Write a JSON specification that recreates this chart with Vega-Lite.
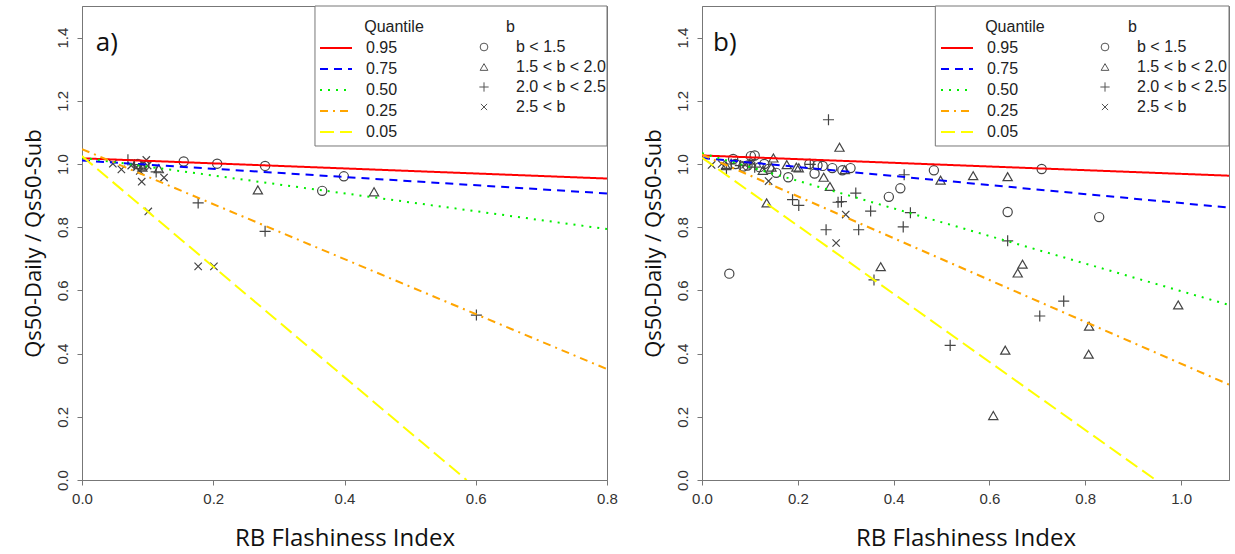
{
  "$schema": "https://vega.github.io/schema/vega-lite/v6.json",
  "padding": {"left": 21, "top": 5, "right": 0, "bottom": 0},
  "bounds": "flush",
  "spacing": 95,
  "background": "white",
  "config": {
    "view": {"stroke": "#777", "strokeWidth": 1},
    "axis": {"grid": false, "domainColor": "#777", "tickColor": "#777", "tickSize": 5, "labelFont": "Liberation Sans", "labelFontSize": 15, "labelColor": "#333", "titleFont": "Open Sans", "titleFontWeight": "normal", "titleColor": "#111", "labelOverlap": false, "labelFlush": false},
    "legend": {"labelFont": "Liberation Sans", "labelFontSize": 16, "labelColor": "#222", "padding": 0, "rowPadding": 4}
  },
  "datasets": {
    "lines_a": [
      {"q": "0.95", "x": 0, "y": 1.018}, {"q": "0.95", "x": 0.8, "y": 0.954},
      {"q": "0.75", "x": 0, "y": 1.011}, {"q": "0.75", "x": 0.8, "y": 0.907},
      {"q": "0.50", "x": 0, "y": 1.02}, {"q": "0.50", "x": 0.8, "y": 0.794},
      {"q": "0.25", "x": 0, "y": 1.047}, {"q": "0.25", "x": 0.8, "y": 0.351},
      {"q": "0.05", "x": 0, "y": 1.025}, {"q": "0.05", "x": 0.586, "y": 0}
    ],
    "lines_b": [
      {"q": "0.95", "x": 0, "y": 1.027}, {"q": "0.95", "x": 1.1, "y": 0.963},
      {"q": "0.75", "x": 0, "y": 1.019}, {"q": "0.75", "x": 1.1, "y": 0.862},
      {"q": "0.50", "x": 0, "y": 1.034}, {"q": "0.50", "x": 1.1, "y": 0.554},
      {"q": "0.25", "x": 0, "y": 1.03}, {"q": "0.25", "x": 1.1, "y": 0.302},
      {"q": "0.05", "x": 0, "y": 1.02}, {"q": "0.05", "x": 0.947, "y": 0}
    ],
    "pts_a": [
      {"b": "b < 1.5", "x": 0.155, "y": 1.008}, {"b": "b < 1.5", "x": 0.206, "y": 1.001}, {"b": "b < 1.5", "x": 0.279, "y": 0.994},
      {"b": "b < 1.5", "x": 0.399, "y": 0.961}, {"b": "b < 1.5", "x": 0.366, "y": 0.915}, {"b": "b < 1.5", "x": 0.085, "y": 1.0},
      {"b": "b < 1.5", "x": 0.095, "y": 0.995},
      {"b": "1.5 < b < 2.0", "x": 0.268, "y": 0.918}, {"b": "1.5 < b < 2.0", "x": 0.445, "y": 0.912},
      {"b": "1.5 < b < 2.0", "x": 0.117, "y": 0.985}, {"b": "1.5 < b < 2.0", "x": 0.092, "y": 0.99},
      {"b": "2.0 < b < 2.5", "x": 0.177, "y": 0.877}, {"b": "2.0 < b < 2.5", "x": 0.279, "y": 0.787}, {"b": "2.0 < b < 2.5", "x": 0.601, "y": 0.522},
      {"b": "2.0 < b < 2.5", "x": 0.070, "y": 1.013}, {"b": "2.0 < b < 2.5", "x": 0.113, "y": 0.975}, {"b": "2.0 < b < 2.5", "x": 0.09, "y": 0.985},
      {"b": "2.0 < b < 2.5", "x": 0.08, "y": 0.998},
      {"b": "2.5 < b", "x": 0.101, "y": 0.850}, {"b": "2.5 < b", "x": 0.177, "y": 0.676}, {"b": "2.5 < b", "x": 0.201, "y": 0.676},
      {"b": "2.5 < b", "x": 0.047, "y": 1.001}, {"b": "2.5 < b", "x": 0.060, "y": 0.983}, {"b": "2.5 < b", "x": 0.091, "y": 0.944},
      {"b": "2.5 < b", "x": 0.125, "y": 0.957}, {"b": "2.5 < b", "x": 0.098, "y": 1.013}, {"b": "2.5 < b", "x": 0.075, "y": 0.995},
      {"b": "2.5 < b", "x": 0.088, "y": 0.978}, {"b": "2.5 < b", "x": 0.083, "y": 0.99}, {"b": "2.5 < b", "x": 0.093, "y": 1.0},
      {"b": "2.5 < b", "x": 0.1, "y": 0.995}
    ],
    "pts_b": [
      {"b": "b < 1.5", "x": 0.057, "y": 0.653}, {"b": "b < 1.5", "x": 0.484, "y": 0.980}, {"b": "b < 1.5", "x": 0.390, "y": 0.896},
      {"b": "b < 1.5", "x": 0.414, "y": 0.923}, {"b": "b < 1.5", "x": 0.638, "y": 0.848}, {"b": "b < 1.5", "x": 0.709, "y": 0.984},
      {"b": "b < 1.5", "x": 0.829, "y": 0.832}, {"b": "b < 1.5", "x": 0.310, "y": 0.987}, {"b": "b < 1.5", "x": 0.272, "y": 0.987},
      {"b": "b < 1.5", "x": 0.241, "y": 0.996}, {"b": "b < 1.5", "x": 0.235, "y": 0.970}, {"b": "b < 1.5", "x": 0.180, "y": 0.958},
      {"b": "b < 1.5", "x": 0.155, "y": 0.972}, {"b": "b < 1.5", "x": 0.110, "y": 1.027}, {"b": "b < 1.5", "x": 0.102, "y": 1.025},
      {"b": "b < 1.5", "x": 0.065, "y": 1.016}, {"b": "b < 1.5", "x": 0.086, "y": 0.992}, {"b": "b < 1.5", "x": 0.224, "y": 1.0},
      {"b": "b < 1.5", "x": 0.252, "y": 0.994}, {"b": "b < 1.5", "x": 0.293, "y": 0.980}, {"b": "b < 1.5", "x": 0.12, "y": 0.99},
      {"b": "b < 1.5", "x": 0.095, "y": 0.995}, {"b": "b < 1.5", "x": 0.07, "y": 1.0}, {"b": "b < 1.5", "x": 0.14, "y": 0.985},
      {"b": "b < 1.5", "x": 0.13, "y": 1.0},
      {"b": "1.5 < b < 2.0", "x": 0.287, "y": 1.053}, {"b": "1.5 < b < 2.0", "x": 0.149, "y": 1.019}, {"b": "1.5 < b < 2.0", "x": 0.135, "y": 0.877},
      {"b": "1.5 < b < 2.0", "x": 0.254, "y": 0.958}, {"b": "1.5 < b < 2.0", "x": 0.267, "y": 0.929}, {"b": "1.5 < b < 2.0", "x": 0.298, "y": 0.982},
      {"b": "1.5 < b < 2.0", "x": 0.373, "y": 0.675}, {"b": "1.5 < b < 2.0", "x": 0.498, "y": 0.949}, {"b": "1.5 < b < 2.0", "x": 0.566, "y": 0.963},
      {"b": "1.5 < b < 2.0", "x": 0.638, "y": 0.960}, {"b": "1.5 < b < 2.0", "x": 0.669, "y": 0.683}, {"b": "1.5 < b < 2.0", "x": 0.659, "y": 0.655},
      {"b": "1.5 < b < 2.0", "x": 0.633, "y": 0.411}, {"b": "1.5 < b < 2.0", "x": 0.608, "y": 0.204}, {"b": "1.5 < b < 2.0", "x": 0.808, "y": 0.487},
      {"b": "1.5 < b < 2.0", "x": 0.807, "y": 0.398}, {"b": "1.5 < b < 2.0", "x": 0.994, "y": 0.554}, {"b": "1.5 < b < 2.0", "x": 0.202, "y": 0.988},
      {"b": "1.5 < b < 2.0", "x": 0.177, "y": 0.998}, {"b": "1.5 < b < 2.0", "x": 0.127, "y": 0.98}, {"b": "1.5 < b < 2.0", "x": 0.197, "y": 0.99},
      {"b": "1.5 < b < 2.0", "x": 0.05, "y": 0.995}, {"b": "1.5 < b < 2.0", "x": 0.145, "y": 0.99},
      {"b": "2.0 < b < 2.5", "x": 0.264, "y": 1.140}, {"b": "2.0 < b < 2.5", "x": 0.422, "y": 0.966}, {"b": "2.0 < b < 2.5", "x": 0.321, "y": 0.908},
      {"b": "2.0 < b < 2.5", "x": 0.284, "y": 0.879}, {"b": "2.0 < b < 2.5", "x": 0.291, "y": 0.881}, {"b": "2.0 < b < 2.5", "x": 0.352, "y": 0.851},
      {"b": "2.0 < b < 2.5", "x": 0.435, "y": 0.846}, {"b": "2.0 < b < 2.5", "x": 0.189, "y": 0.887}, {"b": "2.0 < b < 2.5", "x": 0.202, "y": 0.869},
      {"b": "2.0 < b < 2.5", "x": 0.259, "y": 0.792}, {"b": "2.0 < b < 2.5", "x": 0.327, "y": 0.792}, {"b": "2.0 < b < 2.5", "x": 0.420, "y": 0.801},
      {"b": "2.0 < b < 2.5", "x": 0.638, "y": 0.757}, {"b": "2.0 < b < 2.5", "x": 0.359, "y": 0.633}, {"b": "2.0 < b < 2.5", "x": 0.518, "y": 0.426},
      {"b": "2.0 < b < 2.5", "x": 0.705, "y": 0.519}, {"b": "2.0 < b < 2.5", "x": 0.755, "y": 0.566}, {"b": "2.0 < b < 2.5", "x": 0.051, "y": 0.986},
      {"b": "2.0 < b < 2.5", "x": 0.061, "y": 1.0}, {"b": "2.0 < b < 2.5", "x": 0.226, "y": 0.999}, {"b": "2.0 < b < 2.5", "x": 0.1, "y": 1.0},
      {"b": "2.0 < b < 2.5", "x": 0.08, "y": 0.995}, {"b": "2.0 < b < 2.5", "x": 0.11, "y": 0.99},
      {"b": "2.5 < b", "x": 0.020, "y": 0.997}, {"b": "2.5 < b", "x": 0.139, "y": 0.946}, {"b": "2.5 < b", "x": 0.300, "y": 0.840},
      {"b": "2.5 < b", "x": 0.280, "y": 0.750}, {"b": "2.5 < b", "x": 0.041, "y": 1.0}, {"b": "2.5 < b", "x": 0.09, "y": 0.998},
      {"b": "2.5 < b", "x": 0.105, "y": 1.005}
    ]
  },
  "hconcat": [
    {
      "width": 525,
      "height": 474,
      "layer": [
        {
          "data": {"name": "pts_a"},
          "mark": {"type": "point", "filled": false, "stroke": "#444", "strokeWidth": 1.2, "size": 85, "opacity": 1},
          "encoding": {
            "x": {"field": "x", "type": "quantitative", "scale": {"domain": [0, 0.8], "nice": false, "zero": false},
              "axis": {"values": [0, 0.2, 0.4, 0.6, 0.8], "format": ".1f", "title": "RB Flashiness Index", "titleFontSize": 24, "titlePadding": 20, "labelPadding": 6}},
            "y": {"field": "y", "type": "quantitative", "scale": {"domain": [0, 1.5], "nice": false, "zero": false},
              "axis": {"values": [0, 0.2, 0.4, 0.6, 0.8, 1.0, 1.2, 1.4], "format": ".1f", "labelAngle": -90, "labelAlign": "center", "labelBaseline": "bottom", "labelPadding": 7, "title": "Qs50-Daily / Qs50-Sub", "titleFontSize": 22, "titlePadding": 10}},
            "shape": {"field": "b", "type": "nominal",
              "scale": {"domain": ["b < 1.5", "1.5 < b < 2.0", "2.0 < b < 2.5", "2.5 < b"], "range": ["circle", "triangle-up", "M-1.2,0H1.2M0,-1.2V1.2", "M-0.8,-0.8L0.8,0.8M0.8,-0.8L-0.8,0.8"]},
              "legend": {"orient": "none", "legendX": 394, "legendY": 33, "title": null, "symbolSize": 60, "symbolStrokeColor": "#555", "symbolFillColor": "transparent", "symbolStrokeWidth": 1, "labelOffset": 24}}
          }
        },
        {
          "data": {"name": "lines_a"},
          "mark": {"type": "line", "strokeWidth": 2, "clip": true},
          "encoding": {
            "x": {"field": "x", "type": "quantitative"},
            "y": {"field": "y", "type": "quantitative"},
            "color": {"field": "q", "type": "nominal",
              "scale": {"domain": ["0.95", "0.75", "0.50", "0.25", "0.05"], "range": ["#ff0000", "#0000ff", "#00ee00", "#ffa500", "#ffff00"]},
              "legend": {"orient": "none", "legendX": 245, "legendY": 33, "title": null, "symbolType": "M-2,0H2", "symbolSize": 256, "symbolStrokeWidth": 2, "labelOffset": 21}},
            "strokeDash": {"field": "q", "type": "nominal",
              "scale": {"domain": ["0.95", "0.75", "0.50", "0.25", "0.05"], "range": [[1, 0], [8, 6], [2, 6], [8, 5, 2, 5], [14, 6]]},
              "legend": {"orient": "none", "legendX": 245, "legendY": 33, "title": null, "symbolType": "M-2,0H2", "symbolSize": 256, "symbolStrokeWidth": 2, "labelOffset": 21}}
          }
        },
        {
          "data": {"values": [{}]},
          "mark": {"type": "rect", "fill": "white", "stroke": "#777", "strokeWidth": 1},
          "encoding": {
            "x": {"datum": 0.355, "type": "quantitative"}, "x2": {"datum": 0.8},
            "y": {"datum": 1.057, "type": "quantitative"}, "y2": {"datum": 1.5}
          }
        },
        {
          "data": {"values": [{}]},
          "mark": {"type": "text", "align": "left", "baseline": "middle", "font": "Liberation Sans", "fontSize": 16, "color": "#222", "text": "Quantile"},
          "encoding": {"x": {"datum": 0.43, "type": "quantitative"}, "y": {"datum": 1.434, "type": "quantitative"}}
        },
        {
          "data": {"values": [{}]},
          "mark": {"type": "text", "align": "left", "baseline": "middle", "font": "Liberation Sans", "fontSize": 16, "color": "#222", "text": "b"},
          "encoding": {"x": {"datum": 0.646, "type": "quantitative"}, "y": {"datum": 1.434, "type": "quantitative"}}
        },
        {
          "data": {"values": [{}]},
          "mark": {"type": "text", "align": "left", "baseline": "middle", "font": "Open Sans", "fontSize": 26, "color": "#111", "text": "a)"},
          "encoding": {"x": {"datum": 0.021, "type": "quantitative"}, "y": {"datum": 1.383, "type": "quantitative"}}
        }
      ]
    },
    {
      "width": 527,
      "height": 474,
      "layer": [
        {
          "data": {"name": "pts_b"},
          "mark": {"type": "point", "filled": false, "stroke": "#444", "strokeWidth": 1.2, "size": 85, "opacity": 1},
          "encoding": {
            "x": {"field": "x", "type": "quantitative", "scale": {"domain": [0, 1.1], "nice": false, "zero": false},
              "axis": {"values": [0, 0.2, 0.4, 0.6, 0.8, 1.0], "format": ".1f", "title": "RB Flashiness Index", "titleFontSize": 24, "titlePadding": 20, "labelPadding": 6}},
            "y": {"field": "y", "type": "quantitative", "scale": {"domain": [0, 1.5], "nice": false, "zero": false},
              "axis": {"values": [0, 0.2, 0.4, 0.6, 0.8, 1.0, 1.2, 1.4], "format": ".1f", "labelAngle": -90, "labelAlign": "center", "labelBaseline": "bottom", "labelPadding": 7, "title": "Qs50-Daily / Qs50-Sub", "titleFontSize": 22, "titlePadding": 10}},
            "shape": {"field": "b", "type": "nominal",
              "scale": {"domain": ["b < 1.5", "1.5 < b < 2.0", "2.0 < b < 2.5", "2.5 < b"], "range": ["circle", "triangle-up", "M-1.2,0H1.2M0,-1.2V1.2", "M-0.8,-0.8L0.8,0.8M0.8,-0.8L-0.8,0.8"]},
              "legend": {"orient": "none", "legendX": 395, "legendY": 33, "title": null, "symbolSize": 60, "symbolStrokeColor": "#555", "symbolFillColor": "transparent", "symbolStrokeWidth": 1, "labelOffset": 24}}
          }
        },
        {
          "data": {"name": "lines_b"},
          "mark": {"type": "line", "strokeWidth": 2, "clip": true},
          "encoding": {
            "x": {"field": "x", "type": "quantitative"},
            "y": {"field": "y", "type": "quantitative"},
            "color": {"field": "q", "type": "nominal",
              "scale": {"domain": ["0.95", "0.75", "0.50", "0.25", "0.05"], "range": ["#ff0000", "#0000ff", "#00ee00", "#ffa500", "#ffff00"]},
              "legend": {"orient": "none", "legendX": 246, "legendY": 33, "title": null, "symbolType": "M-2,0H2", "symbolSize": 256, "symbolStrokeWidth": 2, "labelOffset": 21}},
            "strokeDash": {"field": "q", "type": "nominal",
              "scale": {"domain": ["0.95", "0.75", "0.50", "0.25", "0.05"], "range": [[1, 0], [8, 6], [2, 6], [8, 5, 2, 5], [14, 6]]},
              "legend": {"orient": "none", "legendX": 246, "legendY": 33, "title": null, "symbolType": "M-2,0H2", "symbolSize": 256, "symbolStrokeWidth": 2, "labelOffset": 21}}
          }
        },
        {
          "data": {"values": [{}]},
          "mark": {"type": "rect", "fill": "white", "stroke": "#777", "strokeWidth": 1},
          "encoding": {
            "x": {"datum": 0.487, "type": "quantitative"}, "x2": {"datum": 1.1},
            "y": {"datum": 1.057, "type": "quantitative"}, "y2": {"datum": 1.5}
          }
        },
        {
          "data": {"values": [{}]},
          "mark": {"type": "text", "align": "left", "baseline": "middle", "font": "Liberation Sans", "fontSize": 16, "color": "#222", "text": "Quantile"},
          "encoding": {"x": {"datum": 0.591, "type": "quantitative"}, "y": {"datum": 1.434, "type": "quantitative"}}
        },
        {
          "data": {"values": [{}]},
          "mark": {"type": "text", "align": "left", "baseline": "middle", "font": "Liberation Sans", "fontSize": 16, "color": "#222", "text": "b"},
          "encoding": {"x": {"datum": 0.889, "type": "quantitative"}, "y": {"datum": 1.434, "type": "quantitative"}}
        },
        {
          "data": {"values": [{}]},
          "mark": {"type": "text", "align": "left", "baseline": "middle", "font": "Open Sans", "fontSize": 26, "color": "#111", "text": "b)"},
          "encoding": {"x": {"datum": 0.023, "type": "quantitative"}, "y": {"datum": 1.383, "type": "quantitative"}}
        }
      ],
      "resolve": {"scale": {"color": "independent", "shape": "independent", "strokeDash": "independent"}}
    }
  ],
  "resolve": {
    "scale": {"color": "independent", "shape": "independent", "strokeDash": "independent"},
    "legend": {"color": "independent", "shape": "independent", "strokeDash": "independent"}
  }
}
